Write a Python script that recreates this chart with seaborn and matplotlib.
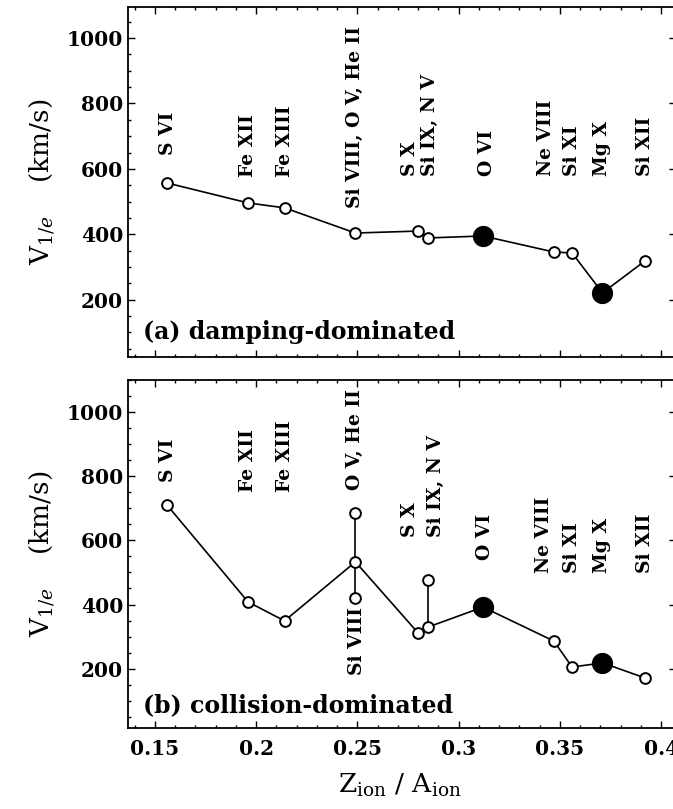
import matplotlib
matplotlib.use("Agg")
import matplotlib.pyplot as plt
import seaborn as sns
import pandas as pd
from matplotlib.ticker import MultipleLocator

# ---------------- data ----------------
ions = ["S VI", "Fe XII", "Fe XIII", "Si VIII", "S X", "Si IX", "O VI",
        "Ne VIII", "Si XI", "Mg X", "Si XII"]
z_over_a = [0.156, 0.196, 0.214, 0.249, 0.280, 0.285, 0.312, 0.347, 0.356, 0.371, 0.392]
v_damping = [557, 496, 481, 404, 410, 389, 395, 346, 343, 221, 319]
v_collision = [710, 408, 349, 533, 311, 330, 392, 286, 205, 218, 171]
filled = [False, False, False, False, False, False, True, False, False, True, False]

# extra (spread) points in collision panel, tied to ion index on the line
extra_index = [3, 3, 5]
extra_v = [685, 420, 476]

top_labels = ["S VI", "Fe XII", "Fe XIII", "Si VIII, O V, He II", "S X", "Si IX, N V",
              "O VI", "Ne VIII", "Si XI", "Mg X", "Si XII"]
top_label_x = [0.1564, 0.196, 0.214, 0.249, 0.276, 0.286, 0.314, 0.343, 0.356, 0.371, 0.392]
top_label_y = [643, 575, 575, 481, 578, 578, 578, 578, 578, 578, 578]

bot_labels = ["S VI", "Fe XII", "Fe XIII", "O V, He II", "S X", "Si IX, N V",
              "O VI", "Ne VIII", "Si XI", "Mg X", "Si XII"]
bot_label_x = [0.1564, 0.196, 0.214, 0.249, 0.276, 0.289, 0.313, 0.342, 0.356, 0.371, 0.392]
bot_label_y = [782, 751, 751, 757, 611, 611, 539, 498, 498, 498, 498]
below_label = "Si VIII"
below_label_x = 0.250
below_label_top = 392

panel_titles = ["(a) damping-dominated", "(b) collision-dominated"]
x_ticks = [0.15, 0.2, 0.25, 0.3, 0.35, 0.4]
x_tick_labels = ["0.15", "0.2", "0.25", "0.3", "0.35", "0.4"]
y_ticks = [200, 400, 600, 800, 1000]

# ---------------- style ----------------
sns.set_style("ticks")
plt.rcParams["font.family"] = ["DejaVu Serif"]
plt.rcParams["mathtext.fontset"] = "dejavuserif"
for k in ["text.color", "axes.labelcolor", "xtick.color", "ytick.color", "axes.edgecolor"]:
    plt.rcParams[k] = "black"

fig = plt.figure(figsize=(6.73, 8.09), dpi=100)
W, H = 673, 809
left_px, right_px = 128, 676
ax_top = fig.add_axes([left_px / W, 1 - 357 / H, (right_px - left_px) / W, 350 / H])
ax_bot = fig.add_axes([left_px / W, 1 - 728 / H, (right_px - left_px) / W, 348 / H])

df = pd.DataFrame({"ion": ions, "x": z_over_a, "damping": v_damping,
                   "collision": v_collision, "filled": filled})


def draw_panel(ax, col):
    sns.lineplot(data=df, x="x", y=col, sort=False, estimator=None, color="black",
                 linewidth=1.2, ax=ax, zorder=2)
    op = df[~df["filled"]]
    fl = df[df["filled"]]
    sns.scatterplot(data=op, x="x", y=col, s=60, facecolor="white", edgecolor="black",
                    linewidth=1.4, ax=ax, zorder=3)
    sns.scatterplot(data=fl, x="x", y=col, s=200, color="black", edgecolor="black",
                    ax=ax, zorder=3)


draw_panel(ax_top, "damping")
draw_panel(ax_bot, "collision")

# spread points in collision panel
ex_x = [z_over_a[i] for i in extra_index]
ex_base = [v_collision[i] for i in extra_index]
ax_bot.vlines(ex_x, ex_base, extra_v, color="black", linewidth=1.2, zorder=1)
sns.scatterplot(x=ex_x, y=extra_v, s=60, facecolor="white", edgecolor="black",
                linewidth=1.4, ax=ax_bot, zorder=3)

lab_kw = dict(rotation=90, ha="center", fontsize=13.5, fontweight="bold")
for lab, lx, ly in zip(top_labels, top_label_x, top_label_y):
    ax_top.text(lx, ly, lab, va="bottom", **lab_kw)
for lab, lx, ly in zip(bot_labels, bot_label_x, bot_label_y):
    ax_bot.text(lx, ly, lab, va="bottom", **lab_kw)
ax_bot.text(below_label_x, below_label_top, below_label, va="top", **lab_kw)

for ax, title, ylim, ty in [(ax_top, panel_titles[0], (25, 1095), 0.071),
                            (ax_bot, panel_titles[1], (15, 1100), 0.066)]:
    ax.set_xlim(0.1367, 0.4073)
    ax.set_ylim(*ylim)
    ax.set_xticks(x_ticks)
    ax.set_yticks(y_ticks)
    ax.xaxis.set_minor_locator(MultipleLocator(0.01))
    ax.yaxis.set_minor_locator(MultipleLocator(50))
    ax.tick_params(which="both", direction="in", top=True, right=True, width=1.0,
                   labelsize=14.5)
    ax.tick_params(which="major", length=5)
    ax.tick_params(which="minor", length=2.5)
    for lbl in ax.get_yticklabels():
        lbl.set_fontweight("bold")
    for sp in ax.spines.values():
        sp.set_linewidth(1.3)
        sp.set_color("black")
    ax.text(0.027, ty, title, transform=ax.transAxes, ha="left", va="center",
            fontsize=17, fontweight="bold")
    ax.set_ylabel(r"V$_{1/e}$    (km/s)", fontsize=19)
    ax.yaxis.set_label_coords(-0.13, 0.5)

ax_top.set_xlabel("")
ax_top.set_xticklabels([])
ax_bot.set_xticklabels(x_tick_labels, fontweight="bold")
ax_bot.set_xlabel(r"Z$_{\rm ion}$ / A$_{\rm ion}$", fontsize=19)
ax_bot.xaxis.set_label_coords((400 - left_px) / (right_px - left_px), -0.125)
ax_bot.tick_params(axis="x", pad=8)

fig.savefig("out.png", dpi=100)
